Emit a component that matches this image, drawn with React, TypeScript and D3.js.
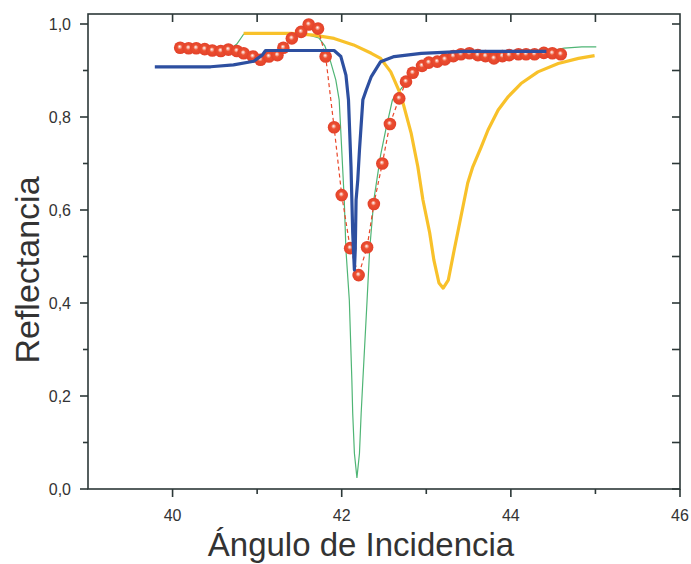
import React from "react";
import * as d3 from "d3";

// Measured reflectance (markers)
const measAngle = [
  40.09, 40.19, 40.28, 40.38, 40.47, 40.57, 40.66, 40.76, 40.84, 40.95,
  41.04, 41.14, 41.24, 41.31, 41.41, 41.52, 41.61, 41.72, 41.81, 41.91,
  42.0, 42.1, 42.2, 42.3, 42.38, 42.48, 42.57, 42.68, 42.76, 42.84,
  42.95, 43.03, 43.13, 43.22, 43.32, 43.41, 43.51, 43.61, 43.7, 43.8,
  43.9, 43.98, 44.09, 44.18, 44.28, 44.39, 44.49, 44.59,
];
const measRefl = [
  0.949, 0.948, 0.948, 0.946, 0.943, 0.942, 0.945, 0.942, 0.937, 0.93,
  0.923, 0.93, 0.933, 0.949, 0.969, 0.983, 0.999, 0.99, 0.93, 0.778,
  0.632, 0.518, 0.46, 0.52, 0.613, 0.7, 0.785, 0.84, 0.876, 0.895,
  0.91, 0.917, 0.919, 0.924, 0.931, 0.935, 0.937, 0.933, 0.931, 0.926,
  0.931, 0.933, 0.935, 0.935, 0.935, 0.938, 0.937, 0.935,
];

// Fitted curve (thin green)
const fitAngle = [
  40.7, 40.76, 40.84, 40.92, 41.28, 41.57, 41.73, 41.8, 41.87, 41.93,
  41.97, 41.99, 42.03, 42.05, 42.09, 42.12, 42.13, 42.15, 42.18, 42.21,
  42.23, 42.25, 42.3, 42.33, 42.38, 42.46, 42.52, 42.6, 42.72, 42.82,
  42.94, 43.12, 43.41, 43.89, 44.36, 44.63, 44.84, 45.01,
];
const fitRefl = [
  0.949, 0.957, 0.978, 0.981, 0.981, 0.978, 0.97, 0.953, 0.918, 0.88,
  0.837, 0.766, 0.622, 0.514, 0.406, 0.234, 0.163, 0.077, 0.024, 0.077,
  0.163, 0.234, 0.406, 0.514, 0.622, 0.718, 0.772, 0.837, 0.865, 0.89,
  0.908, 0.918, 0.931, 0.933, 0.938, 0.948, 0.951, 0.951,
];

// Shifted resonance (yellow)
const shiftAngle = [
  40.84, 41.4, 41.67, 41.91, 42.14, 42.35, 42.46, 42.58, 42.7, 42.82,
  42.9, 42.96, 43.04, 43.09, 43.15, 43.2, 43.26, 43.33, 43.41, 43.49,
  43.55, 43.65, 43.73, 43.85, 43.97, 44.12, 44.32, 44.56, 44.8, 44.99,
];
const shiftRefl = [
  0.98, 0.98, 0.976, 0.969, 0.955, 0.937, 0.926, 0.897, 0.847, 0.766,
  0.693, 0.622, 0.551, 0.492, 0.443, 0.432, 0.449, 0.514, 0.586, 0.658,
  0.693, 0.736, 0.772, 0.815, 0.844, 0.872, 0.897, 0.915, 0.926, 0.932,
];

// Narrow resonance (blue)
const narrowAngle = [
  39.79, 40.45, 40.72, 40.96, 41.06, 41.1, 41.91, 41.99, 42.05, 42.08,
  42.11, 42.13, 42.15, 42.16, 42.17, 42.19, 42.21, 42.25, 42.29, 42.35,
  42.46, 42.62, 42.94, 43.45, 44.42,
];
const narrowRefl = [
  0.908, 0.908, 0.912, 0.92, 0.933, 0.943, 0.943, 0.93, 0.89, 0.837,
  0.693, 0.551, 0.471, 0.514, 0.622, 0.665, 0.729, 0.837, 0.858, 0.887,
  0.919, 0.93, 0.937, 0.941, 0.941,
];

const xMajor = [40, 42, 44, 46];
const xMinor = [41, 43, 45];
const xTop = [40, 41, 42, 43, 44, 45];
const yMajor = [0, 0.2, 0.4, 0.6, 0.8, 1.0];
const yMinor = [0.1, 0.3, 0.5, 0.7, 0.9];
const yRight = [0, 0.1, 0.2, 0.3, 0.4, 0.5, 0.6, 0.7, 0.8, 0.9, 1.0];

const W = 691;
const H = 564;
const left = 88;
const right = 680;
const top = 14;
const bottom = 489;

const x = d3.scaleLinear().domain([39, 46]).range([left, right]);
const y = d3.scaleLinear().domain([0, 1]).range([bottom, 24]);

const zip = (a: number[], b: number[]) => a.map((v, i) => [v, b[i]] as [number, number]);
const line = d3
  .line<[number, number]>()
  .x((d) => x(d[0]))
  .y((d) => y(d[1]));

const fmt = (v: number) => v.toFixed(1).replace(".", ",");

const axisColor = "#2c3838";
const font = "'Liberation Sans', Arial, sans-serif";

export default function App() {
  const meas = zip(measAngle, measRefl);
  return (
    <svg
      width={W}
      height={H}
      style={{ position: "fixed", left: 0, top: 0, background: "#fff" }}
      fontFamily={font}
    >
      <defs>
        <radialGradient id="ball" cx="50%" cy="50%" r="50%" fx="45%" fy="40%">
          <stop offset="0%" stopColor="#ffffff" />
          <stop offset="18%" stopColor="#f7b3a4" />
          <stop offset="40%" stopColor="#ec4f30" />
          <stop offset="100%" stopColor="#e2412a" />
        </radialGradient>
      </defs>

      {/* curves */}
      <path d={line(zip(fitAngle, fitRefl)) || ""} fill="none" stroke="#4fb575" strokeWidth={1.2} />
      <path d={line(zip(shiftAngle, shiftRefl)) || ""} fill="none" stroke="#f8c12a" strokeWidth={3.2} strokeLinejoin="round" />
      <path d={line(meas) || ""} fill="none" stroke="#e9482b" strokeWidth={1.2} strokeDasharray="4,3" />
      {meas.map((d, i) => (
        <circle key={i} cx={x(d[0])} cy={y(d[1])} r={6.3} fill="url(#ball)" />
      ))}
      <path d={line(zip(narrowAngle, narrowRefl)) || ""} fill="none" stroke="#2d4fa0" strokeWidth={3.2} strokeLinejoin="round" />

      {/* frame */}
      <rect x={left} y={top} width={right - left} height={bottom - top} fill="none" stroke={axisColor} strokeWidth={1.6} />

      {/* bottom ticks */}
      {xMajor.map((v) => (
        <g key={"xb" + v}>
          <line x1={x(v)} x2={x(v)} y1={bottom} y2={bottom + 8} stroke={axisColor} strokeWidth={1.6} />
          <text x={x(v)} y={bottom + 32} textAnchor="middle" fontSize={16} fill="#333">
            {v}
          </text>
        </g>
      ))}
      {xMinor.map((v) => (
        <line key={"xm" + v} x1={x(v)} x2={x(v)} y1={bottom} y2={bottom + 5} stroke={axisColor} strokeWidth={1.6} />
      ))}
      {/* top ticks */}
      {xTop.map((v) => (
        <line key={"xt" + v} x1={x(v)} x2={x(v)} y1={top} y2={top + 8} stroke={axisColor} strokeWidth={1.6} />
      ))}

      {/* left ticks */}
      {yMajor.map((v) => (
        <g key={"yl" + v}>
          <line x1={left - 8} x2={left} y1={y(v)} y2={y(v)} stroke={axisColor} strokeWidth={1.6} />
          <text x={left - 17} y={y(v) + 5.5} textAnchor="end" fontSize={16} fill="#333">
            {fmt(v)}
          </text>
        </g>
      ))}
      {yMinor.map((v) => (
        <line key={"ym" + v} x1={left - 5} x2={left} y1={y(v)} y2={y(v)} stroke={axisColor} strokeWidth={1.6} />
      ))}
      {/* right ticks */}
      {yRight.map((v) => (
        <line key={"yr" + v} x1={right - 8} x2={right} y1={y(v)} y2={y(v)} stroke={axisColor} strokeWidth={1.6} />
      ))}

      {/* axis titles */}
      <text
        transform={`translate(39, 270) rotate(-90)`}
        textAnchor="middle"
        fontSize={34}
        fill="#333"
      >
        Reflectancia
      </text>
      <text x={361} y={556} textAnchor="middle" fontSize={33} fill="#333">
        Ángulo de Incidencia
      </text>
    </svg>
  );
}
